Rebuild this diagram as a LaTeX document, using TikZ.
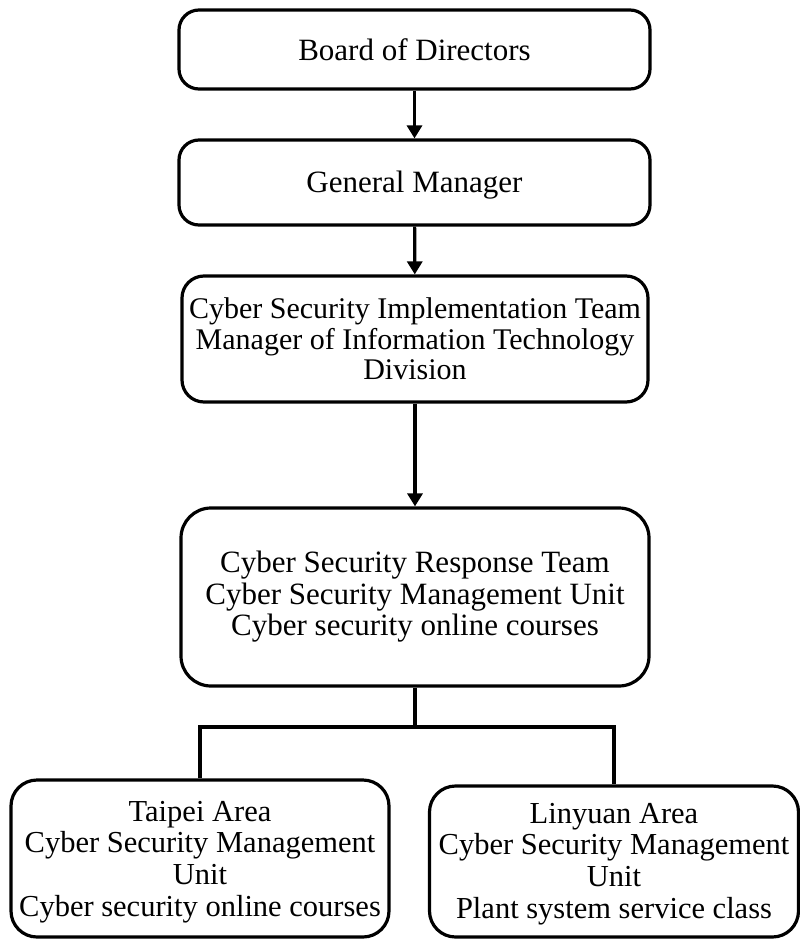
\documentclass[tikz,border=0pt]{standalone}
\usepackage{fontspec}
\setmainfont{Liberation Serif}
\usetikzlibrary{arrows.meta}
\begin{document}
\begin{tikzpicture}[x=1pt,y=-1pt,
  box/.style={draw, line width=3.2pt, rounded corners=#1, align=center, inner sep=0pt,
    font=\fontsize{31}{31.5}\selectfont},
  box/.default=20pt,
  conn/.style={line width=3.2pt},
  arr/.style={conn, -{Triangle[width=15pt,length=13pt]}}]
\useasboundingbox (0,0) rectangle (800,940);

\node[box, minimum width=471pt, minimum height=79pt] (b1) at (414.5,49.5) {Board of Directors};
\node[box, minimum width=471pt, minimum height=85pt] (b2) at (414.5,182.5) {\rule{0pt}{27pt}General Manager};
\node[box=22pt, minimum width=466pt, minimum height=126pt, font=\fontsize{30}{30.5}\selectfont] (b3) at (415,339)
  {Cyber Security Implementation Team\\Manager of Information Technology\\Division};
\node[box=30pt, minimum width=468pt, minimum height=178pt] (b4) at (415,597)
  {Cyber Security Response Team\\Cyber Security Management Unit\\Cyber security online courses};
\node[box=26pt, minimum width=378pt, minimum height=157pt, font=\fontsize{30.5}{31.7}\selectfont] (b5) at (200,858.5)
  {\rule{0pt}{27pt}Taipei Area\\Cyber Security Management\\Unit\\Cyber security online courses};
\node[box=26pt, minimum width=369pt, minimum height=151pt, font=\fontsize{30.5}{31.7}\selectfont] (b6) at (614,861.5)
  {\rule{0pt}{25pt}Linyuan Area\\Cyber Security Management\\Unit\\Plant system service class};

\coordinate (j) at (415,727);
\draw[arr] (b1) -- (b2);
\draw[arr] (b2) -- (b3);
\draw[arr] (b3) -- (b4);
\draw[conn] (b4) -- (j);
\draw[conn] (b5.north) |- (j) -| (b6.north);
\end{tikzpicture}
\end{document}
